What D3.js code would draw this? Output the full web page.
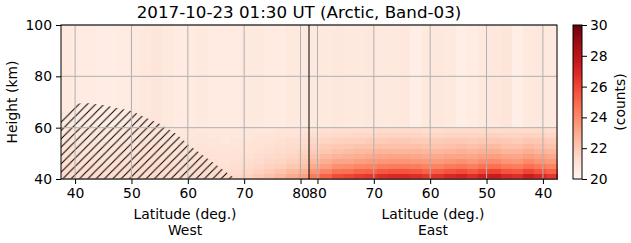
<!DOCTYPE html>
<html>
<head>
<meta charset="utf-8">
<script src="https://cdn.jsdelivr.net/npm/d3@7"></script>
<style>
  body { margin: 0; background: #fff; }
  svg { font-family: "DejaVu Sans", sans-serif; }
</style>
</head>
<body>
<svg id="chart" width="631" height="243"></svg>
<script>
const title = "2017-10-23 01:30 UT (Arctic, Band-03)";

// bins
const heightEdges = [40, 42, 44, 46, 48, 50, 52, 54, 56, 58, 60, 100];
const westLatEdges = [37.5, 39.5, 41.5, 43.5, 45.5, 47.5, 49.5, 51.5, 53.5, 55.5, 57.5, 59.5,
    61.5, 63.5, 65.5, 67.5, 69.5, 71.5, 73.5, 75.5, 77.5, 79.5, 81.5];
const eastLatEdges = [81.5, 79.5, 77.5, 75.5, 73.5, 71.5, 69.5, 67.5, 65.5, 63.5, 61.5, 59.5,
    57.5, 55.5, 53.5, 51.5, 49.5, 47.5, 45.5, 43.5, 41.5, 39.5, 37.5];

const latTicks = [40, 50, 60, 70, 80];
const heightTicks = [40, 60, 80, 100];
const countTicks = [20, 22, 24, 26, 28, 30];

// counts, one row per height bin (bottom first), one value per latitude bin
const westCounts = [
    [21.3, 21.2, 21.3, 21.3, 21.2, 21.3, 21.4, 21.3, 21.4, 21.3, 21.2, 21.3, 21.3, 21.3, 21.4, 21.5, 21.7, 22.0, 22.3, 22.6, 23.0, 23.4],
    [21.2, 21.2, 21.2, 21.2, 21.2, 21.2, 21.3, 21.2, 21.3, 21.2, 21.2, 21.2, 21.2, 21.2, 21.2, 21.3, 21.5, 21.7, 21.9, 22.2, 22.5, 22.8],
    [21.2, 21.1, 21.2, 21.1, 21.1, 21.2, 21.2, 21.2, 21.3, 21.2, 21.1, 21.1, 21.2, 21.1, 21.1, 21.2, 21.3, 21.5, 21.7, 21.8, 22.1, 22.3],
    [21.1, 21.1, 21.1, 21.1, 21.0, 21.1, 21.1, 21.2, 21.2, 21.1, 21.1, 21.1, 21.1, 21.1, 21.0, 21.1, 21.2, 21.3, 21.5, 21.6, 21.8, 22.0],
    [21.1, 21.0, 21.1, 21.0, 21.0, 21.1, 21.1, 21.1, 21.2, 21.1, 21.0, 21.0, 21.1, 21.0, 21.0, 21.0, 21.1, 21.2, 21.3, 21.4, 21.6, 21.8],
    [21.0, 21.0, 21.0, 21.0, 20.9, 21.0, 21.0, 21.1, 21.1, 21.0, 21.0, 21.0, 21.0, 21.0, 20.9, 21.0, 21.0, 21.1, 21.2, 21.3, 21.4, 21.6],
    [21.0, 20.9, 21.0, 20.9, 20.9, 21.0, 21.0, 21.0, 21.1, 21.0, 20.9, 20.9, 21.0, 20.9, 20.9, 20.9, 21.0, 21.0, 21.1, 21.2, 21.3, 21.4],
    [20.9, 20.9, 20.9, 20.9, 20.8, 20.9, 20.9, 21.0, 21.0, 20.9, 20.9, 20.9, 20.9, 20.9, 20.8, 20.9, 20.9, 21.0, 21.0, 21.1, 21.2, 21.2],
    [20.9, 20.8, 20.9, 20.8, 20.8, 20.9, 20.9, 20.9, 21.0, 20.9, 20.8, 20.8, 20.9, 20.8, 20.8, 20.8, 20.8, 20.9, 20.9, 21.0, 21.0, 21.1],
    [20.8, 20.8, 20.8, 20.8, 20.7, 20.8, 20.8, 20.9, 20.9, 20.8, 20.8, 20.8, 20.8, 20.8, 20.8, 20.8, 20.8, 20.8, 20.8, 20.9, 20.9, 20.9],
    [20.7, 20.6, 20.6, 20.5, 20.5, 20.6, 20.7, 20.8, 20.9, 20.7, 20.6, 20.6, 20.7, 20.6, 20.6, 20.6, 20.7, 20.7, 20.6, 20.6, 20.7, 20.7]
];
const eastCounts = [
    [24.5, 25.2, 25.8, 26.0, 26.3, 26.5, 26.8, 27.0, 27.0, 26.8, 26.5, 26.6, 27.0, 27.2, 26.8, 27.3, 27.6, 27.0, 26.8, 27.5, 27.0, 26.5],
    [23.7, 24.2, 24.7, 24.8, 25.1, 25.2, 25.5, 25.6, 25.6, 25.5, 25.2, 25.3, 25.6, 25.8, 25.5, 25.9, 26.1, 25.6, 25.5, 26.0, 25.6, 25.2],
    [23.0, 23.4, 23.8, 23.9, 24.1, 24.2, 24.4, 24.5, 24.5, 24.4, 24.2, 24.2, 24.5, 24.6, 24.4, 24.7, 24.8, 24.5, 24.4, 24.8, 24.5, 24.2],
    [22.5, 22.9, 23.2, 23.2, 23.4, 23.5, 23.6, 23.7, 23.7, 23.6, 23.5, 23.5, 23.7, 23.8, 23.6, 23.9, 24.0, 23.7, 23.6, 24.0, 23.7, 23.5],
    [22.2, 22.5, 22.7, 22.8, 22.9, 23.0, 23.1, 23.2, 23.2, 23.1, 23.0, 23.0, 23.2, 23.2, 23.1, 23.3, 23.4, 23.2, 23.1, 23.4, 23.2, 23.0],
    [21.9, 22.1, 22.3, 22.4, 22.5, 22.6, 22.7, 22.7, 22.7, 22.7, 22.6, 22.6, 22.7, 22.8, 22.7, 22.8, 22.9, 22.7, 22.7, 22.9, 22.7, 22.6],
    [21.7, 21.9, 22.0, 22.1, 22.2, 22.2, 22.3, 22.3, 22.3, 22.3, 22.2, 22.2, 22.3, 22.4, 22.3, 22.4, 22.5, 22.3, 22.3, 22.5, 22.3, 22.2],
    [21.5, 21.6, 21.7, 21.8, 21.8, 21.9, 21.9, 22.0, 22.0, 21.9, 21.9, 21.9, 22.0, 22.0, 21.9, 22.0, 22.1, 22.0, 21.9, 22.1, 22.0, 21.9],
    [21.2, 21.3, 21.4, 21.4, 21.5, 21.5, 21.6, 21.6, 21.6, 21.6, 21.5, 21.5, 21.6, 21.6, 21.6, 21.6, 21.7, 21.6, 21.6, 21.7, 21.6, 21.5],
    [21.0, 21.1, 21.2, 21.2, 21.2, 21.2, 21.3, 21.3, 21.3, 21.3, 21.2, 21.2, 21.3, 21.3, 21.3, 21.3, 21.3, 21.3, 21.3, 21.3, 21.3, 21.2],
    [20.7, 20.7, 20.8, 20.7, 20.7, 20.8, 20.7, 20.7, 20.8, 20.4, 20.7, 20.8, 20.7, 20.4, 20.6, 20.7, 20.8, 20.9, 20.4, 20.7, 20.8, 20.7]
];

// hatched region (west side), outline as latitude / height pairs
const hatchLat = [37.5, 37.5, 40, 42, 45, 50, 53, 55, 58, 60, 63, 66, 68.5];
const hatchHeight = [40, 65, 69.3, 69.6, 68.8, 66.5, 63.5, 61.5, 57.5, 53.5, 48.8, 44, 40];

const svg = d3.select("#chart");
const margin = { top: 25, left: 61, bottom: 179 };
const mid = 309, right = 557;

const xWest = d3.scaleLinear().domain([37.5, 81.5]).range([margin.left, mid]);
const xEast = d3.scaleLinear().domain([81.5, 37.5]).range([mid, right]);
const y = d3.scaleLinear().domain([40, 100]).range([margin.bottom, margin.top]);
const color = d3.scaleSequential(d3.interpolateReds).domain([20, 30]);

const defs = svg.append("defs");
const hatch = defs.append("pattern")
    .attr("id", "hatch")
    .attr("patternUnits", "userSpaceOnUse")
    .attr("width", 8.33)
    .attr("height", 8.33);
hatch.append("path")
    .attr("d", "M0,8.33L8.33,0M-1,1L1,-1M7.33,9.33L9.33,7.33")
    .attr("stroke", "#000")
    .attr("stroke-width", 1);

// draw one side's cells
const drawCells = (counts, latEdges, x) => {
    const cells = [];
    counts.forEach((row, r) => {
        row.forEach((v, c) => {
            cells.push({ x0: latEdges[c], x1: latEdges[c + 1], y0: heightEdges[r], y1: heightEdges[r + 1], v: v });
        });
    });
    svg.append("g")
        .attr("shape-rendering", "crispEdges")
        .selectAll("rect")
        .data(cells)
        .enter()
        .append("rect")
        .attr("x", (d) => Math.min(x(d.x0), x(d.x1)))
        .attr("width", (d) => Math.abs(x(d.x1) - x(d.x0)) + 0.5)
        .attr("y", (d) => y(d.y1))
        .attr("height", (d) => y(d.y0) - y(d.y1) + 0.5)
        .attr("fill", (d) => color(d.v));
};
drawCells(westCounts, westLatEdges, xWest);
drawCells(eastCounts, eastLatEdges, xEast);

// hatching over the west cells
const hatchPts = hatchLat.map((lat, i) => [xWest(lat), y(hatchHeight[i])]);
svg.append("path")
    .attr("d", d3.line()(hatchPts) + "Z")
    .attr("fill", "url(#hatch)");

// grid
const grid = svg.append("g").attr("stroke", "#b0b0b0").attr("stroke-width", 1);
[xWest, xEast].forEach((x) => {
    grid.selectAll(null)
        .data(latTicks)
        .enter()
        .append("line")
        .attr("x1", (d) => x(d)).attr("x2", (d) => x(d))
        .attr("y1", margin.top).attr("y2", margin.bottom);
});
grid.selectAll(null)
    .data(heightTicks)
    .enter()
    .append("line")
    .attr("x1", margin.left).attr("x2", right)
    .attr("y1", (d) => y(d)).attr("y2", (d) => y(d));

// frames
svg.append("rect")
    .attr("x", margin.left).attr("y", margin.top)
    .attr("width", right - margin.left).attr("height", margin.bottom - margin.top)
    .attr("fill", "none").attr("stroke", "#000").attr("stroke-width", 1);
svg.append("line")
    .attr("x1", mid).attr("x2", mid)
    .attr("y1", margin.top).attr("y2", margin.bottom)
    .attr("stroke", "#000").attr("stroke-width", 1);

// axes
const styleAxis = (g) => {
    g.select(".domain").remove();
    g.selectAll("text").attr("font-size", 13.9).attr("fill", "#000").attr("font-family", "DejaVu Sans");
    g.selectAll("line").attr("stroke", "#000");
};
svg.append("g")
    .attr("transform", "translate(0," + margin.bottom + ")")
    .call(d3.axisBottom(xWest).tickValues(latTicks).tickSize(5).tickPadding(4))
    .call(styleAxis);
svg.append("g")
    .attr("transform", "translate(0," + margin.bottom + ")")
    .call(d3.axisBottom(xEast).tickValues(latTicks).tickSize(5).tickPadding(4))
    .call(styleAxis);
svg.append("g")
    .attr("transform", "translate(" + margin.left + ",0)")
    .call(d3.axisLeft(y).tickValues(heightTicks).tickSize(5).tickPadding(4))
    .call(styleAxis);

const label = (text, x, yy, rot) => {
    svg.append("text")
        .attr("transform", "translate(" + x + "," + yy + ")" + (rot ? " rotate(-90)" : ""))
        .attr("text-anchor", "middle")
        .attr("font-size", 13.9)
        .text(text);
};
label("Latitude (deg.)", (margin.left + mid) / 2, 219);
label("West", (margin.left + mid) / 2, 235);
label("Latitude (deg.)", (mid + right) / 2, 219);
label("East", (mid + right) / 2, 235);
label("Height (km)", 16.5, (margin.top + margin.bottom) / 2, true);

svg.append("text")
    .attr("x", 299)
    .attr("y", 18)
    .attr("text-anchor", "middle")
    .attr("font-size", 16.7)
    .text(title);

// colorbar
const cbX = 573, cbW = 9;
const cy = d3.scaleLinear().domain([20, 30]).range([margin.bottom, margin.top]);
const grad = defs.append("linearGradient")
    .attr("id", "cbgrad")
    .attr("x1", 0).attr("y1", 1).attr("x2", 0).attr("y2", 0);
grad.selectAll("stop")
    .data(d3.range(0, 1.001, 0.05))
    .enter()
    .append("stop")
    .attr("offset", (d) => d)
    .attr("stop-color", (d) => d3.interpolateReds(d));
svg.append("rect")
    .attr("x", cbX).attr("y", margin.top)
    .attr("width", cbW).attr("height", margin.bottom - margin.top)
    .attr("fill", "url(#cbgrad)")
    .attr("stroke", "#000").attr("stroke-width", 1);
svg.append("g")
    .attr("transform", "translate(" + (cbX + cbW) + ",0)")
    .call(d3.axisRight(cy).tickValues(countTicks).tickSize(5).tickPadding(3))
    .call(styleAxis);
label("(counts)", 625, (margin.top + margin.bottom) / 2, true);
</script>
</body>
</html>
